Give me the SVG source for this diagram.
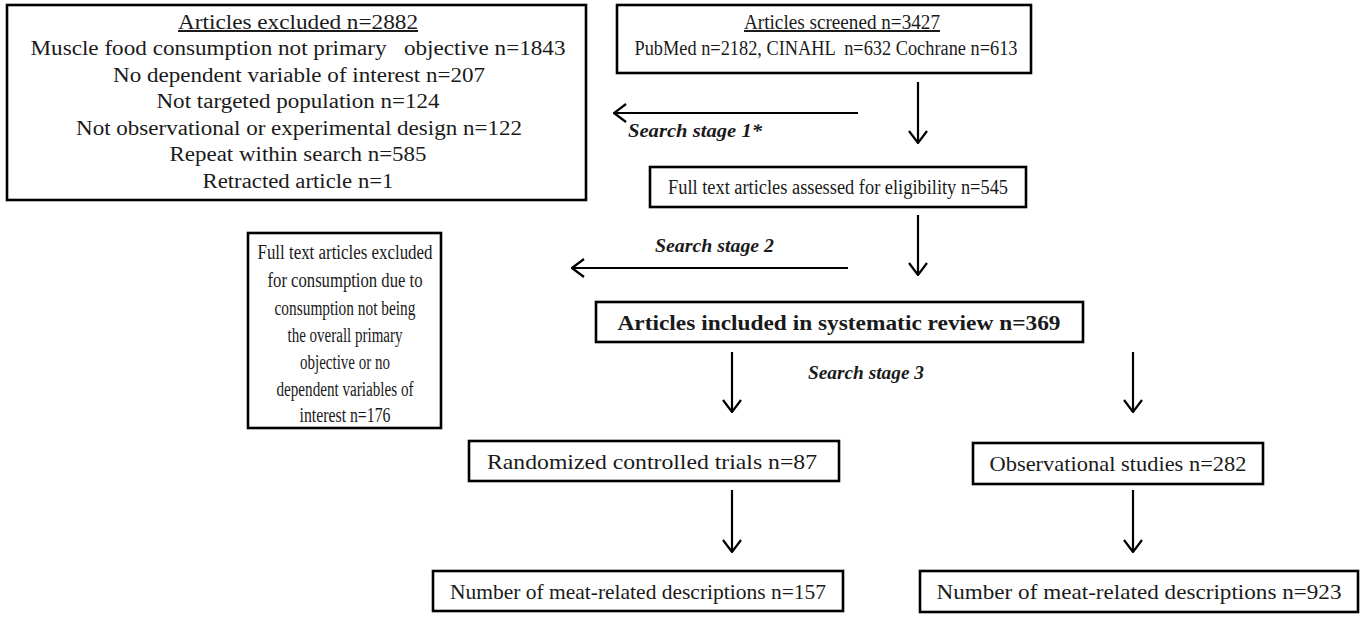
<svg xmlns="http://www.w3.org/2000/svg" width="1371" height="617" viewBox="0 0 1371 617">
<style>
.box{fill:#fff;stroke:#000;stroke-width:2.6}
.t{font-family:"Liberation Serif","Times New Roman",serif;font-size:20px;fill:#1a1a1a;text-anchor:middle}
.lg{font-size:21px}
.b{font-weight:bold}
.s{font-family:"Liberation Serif","Times New Roman",serif;font-size:19px;font-weight:bold;font-style:italic;fill:#1a1a1a}
.u{text-decoration:underline}
.c{stroke:#000;stroke-width:2.2;fill:none}
</style>
<defs>
<marker id="ah" viewBox="0 0 14 20" refX="13" refY="10" markerWidth="14" markerHeight="20" markerUnits="userSpaceOnUse" orient="auto">
<path d="M1,1 L13,10 L1,19" fill="none" stroke="#000" stroke-width="2.2"/>
</marker>
</defs>
<rect width="1371" height="617" fill="#fff"/>
<g id="connectors">
<line class="c" x1="918" y1="82" x2="918" y2="143" marker-end="url(#ah)"/>
<line class="c" x1="858" y1="113" x2="614" y2="113" marker-end="url(#ah)"/>
<line class="c" x1="918" y1="215" x2="918" y2="275" marker-end="url(#ah)"/>
<line class="c" x1="848" y1="268" x2="572" y2="268" marker-end="url(#ah)"/>
<line class="c" x1="732" y1="352" x2="732" y2="412" marker-end="url(#ah)"/>
<line class="c" x1="1133" y1="352" x2="1133" y2="412" marker-end="url(#ah)"/>
<line class="c" x1="732" y1="490" x2="732" y2="552" marker-end="url(#ah)"/>
<line class="c" x1="1133" y1="490" x2="1133" y2="552" marker-end="url(#ah)"/>
<text class="s" x="628" y="137" textLength="134" lengthAdjust="spacingAndGlyphs">Search stage 1*</text>
<text class="s" x="655" y="252" textLength="119" lengthAdjust="spacingAndGlyphs">Search stage 2</text>
<text class="s" x="808" y="379" textLength="116" lengthAdjust="spacingAndGlyphs">Search stage 3</text>
</g>
<g id="excluded">
<rect class="box" x="7" y="5" width="579" height="195"/>
<text class="t u" x="298" y="29" textLength="240" lengthAdjust="spacingAndGlyphs">Articles excluded n=2882</text>
<text class="t" x="298" y="55" textLength="535" lengthAdjust="spacingAndGlyphs" xml:space="preserve">Muscle food consumption not primary   objective n=1843</text>
<text class="t" x="299" y="82" textLength="372" lengthAdjust="spacingAndGlyphs">No dependent variable of interest n=207</text>
<text class="t" x="298" y="108" textLength="283" lengthAdjust="spacingAndGlyphs">Not targeted population n=124</text>
<text class="t" x="299" y="135" textLength="446" lengthAdjust="spacingAndGlyphs">Not observational or experimental design n=122</text>
<text class="t" x="298" y="161" textLength="257" lengthAdjust="spacingAndGlyphs">Repeat within search n=585</text>
<text class="t" x="298" y="188" textLength="191" lengthAdjust="spacingAndGlyphs">Retracted article n=1</text>
</g>
<g id="screened">
<rect class="box" x="617" y="5" width="414" height="68"/>
<text class="t u" x="842" y="29" textLength="196" lengthAdjust="spacingAndGlyphs">Articles screened n=3427</text>
<text class="t" x="826" y="55" textLength="383" lengthAdjust="spacingAndGlyphs" xml:space="preserve">PubMed n=2182, CINAHL  n=632 Cochrane n=613</text>
</g>
<g id="assessed">
<rect class="box" x="650" y="167" width="376" height="40"/>
<text class="t" x="838" y="194" textLength="340" lengthAdjust="spacingAndGlyphs">Full text articles assessed for eligibility n=545</text>
</g>
<g id="fulltext-excluded">
<rect class="box" x="248" y="233" width="193" height="195"/>
<text class="t" x="345" y="259" textLength="175" lengthAdjust="spacingAndGlyphs">Full text articles excluded</text>
<text class="t" x="345" y="287" textLength="155" lengthAdjust="spacingAndGlyphs">for consumption due to</text>
<text class="t" x="345" y="315" textLength="141" lengthAdjust="spacingAndGlyphs">consumption not being</text>
<text class="t" x="345" y="342" textLength="115" lengthAdjust="spacingAndGlyphs">the overall primary</text>
<text class="t" x="345" y="369" textLength="90" lengthAdjust="spacingAndGlyphs">objective or no</text>
<text class="t" x="345" y="396" textLength="137" lengthAdjust="spacingAndGlyphs">dependent variables of</text>
<text class="t" x="345" y="422" textLength="91" lengthAdjust="spacingAndGlyphs">interest n=176</text>
</g>
<g id="included">
<rect class="box" x="596" y="302" width="487" height="40"/>
<text class="t lg b" x="839" y="330" textLength="443" lengthAdjust="spacingAndGlyphs">Articles included in systematic review n=369</text>
</g>
<g id="rct">
<rect class="box" x="469" y="441" width="370" height="40"/>
<text class="t lg" x="652" y="469" textLength="330" lengthAdjust="spacingAndGlyphs">Randomized controlled trials n=87</text>
</g>
<g id="observational">
<rect class="box" x="973" y="443" width="290" height="41"/>
<text class="t lg" x="1118" y="471" textLength="257" lengthAdjust="spacingAndGlyphs">Observational studies n=282</text>
</g>
<g id="rct-descriptions">
<rect class="box" x="433" y="571" width="410" height="40"/>
<text class="t lg" x="638" y="599" textLength="376" lengthAdjust="spacingAndGlyphs">Number of meat-related descriptions n=157</text>
</g>
<g id="obs-descriptions">
<rect class="box" x="920" y="571" width="438" height="41"/>
<text class="t lg" x="1139" y="599" textLength="405" lengthAdjust="spacingAndGlyphs">Number of meat-related descriptions n=923</text>
</g>
</svg>
